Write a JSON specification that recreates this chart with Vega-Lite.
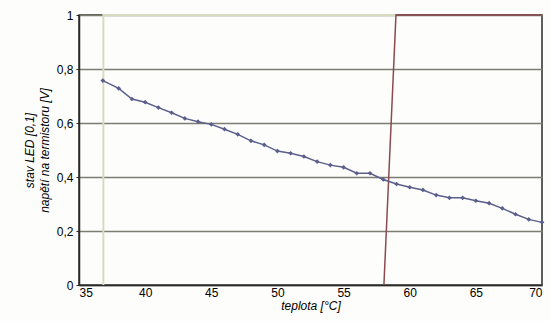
{
  "$schema": "https://vega.github.io/schema/vega-lite/v6.json",
  "width": 463,
  "height": 270,
  "autosize": {"type": "none"},
  "padding": {"left": 79, "top": 15, "right": 8, "bottom": 36},
  "background": "#fdfdfb",
  "config": {
    "view": {"stroke": "#2a2a2a", "strokeWidth": 1.5},
    "font": "Liberation Sans"
  },
  "data": {
    "values": [
      {"s": "ledA", "t": 36.84, "v": 0},
      {"s": "ledA", "t": 36.84, "v": 1},
      {"s": "ledA", "t": 58.96, "v": 1},
      {"s": "ledB", "t": 58.05, "v": 0},
      {"s": "ledB", "t": 58.96, "v": 1},
      {"s": "ledB", "t": 70, "v": 1},
      {"s": "u", "t": 36.8, "v": 0.757},
      {"s": "u", "t": 38, "v": 0.728},
      {"s": "u", "t": 39, "v": 0.689},
      {"s": "u", "t": 40, "v": 0.677},
      {"s": "u", "t": 41, "v": 0.657},
      {"s": "u", "t": 42, "v": 0.638},
      {"s": "u", "t": 43, "v": 0.617},
      {"s": "u", "t": 44, "v": 0.605},
      {"s": "u", "t": 45, "v": 0.595},
      {"s": "u", "t": 46, "v": 0.577},
      {"s": "u", "t": 47, "v": 0.558},
      {"s": "u", "t": 48, "v": 0.534},
      {"s": "u", "t": 49, "v": 0.519},
      {"s": "u", "t": 50, "v": 0.496},
      {"s": "u", "t": 51, "v": 0.488},
      {"s": "u", "t": 52, "v": 0.476},
      {"s": "u", "t": 53, "v": 0.457},
      {"s": "u", "t": 54, "v": 0.444},
      {"s": "u", "t": 55, "v": 0.436},
      {"s": "u", "t": 56, "v": 0.414},
      {"s": "u", "t": 57, "v": 0.414},
      {"s": "u", "t": 58, "v": 0.391},
      {"s": "u", "t": 59, "v": 0.374},
      {"s": "u", "t": 60, "v": 0.362},
      {"s": "u", "t": 61, "v": 0.352},
      {"s": "u", "t": 62, "v": 0.333},
      {"s": "u", "t": 63, "v": 0.323},
      {"s": "u", "t": 64, "v": 0.323},
      {"s": "u", "t": 65, "v": 0.312},
      {"s": "u", "t": 66, "v": 0.303},
      {"s": "u", "t": 67, "v": 0.284},
      {"s": "u", "t": 68, "v": 0.262},
      {"s": "u", "t": 69, "v": 0.243},
      {"s": "u", "t": 70, "v": 0.232}
    ]
  },
  "encoding": {
    "x": {
      "field": "t",
      "type": "quantitative",
      "scale": {"domain": [35, 70], "nice": false, "zero": false},
      "axis": {
        "title": "teplota [°C]",
        "titleFontStyle": "italic",
        "titleFontWeight": "normal",
        "titleFontSize": 12,
        "titleColor": "#000",
        "titlePadding": 2,
        "values": [35, 40, 45, 50, 55, 60, 65, 70],
        "labelFontSize": 12,
        "labelColor": "#000",
        "labelPadding": 2,
        "ticks": false,
        "grid": false,
        "domainColor": "#2a2a2a",
        "domainWidth": 1.5
      }
    },
    "y": {
      "field": "v",
      "type": "quantitative",
      "scale": {"domain": [0, 1], "nice": false},
      "axis": {
        "title": ["stav LED [0,1]", "napětí na termistoru [V]"],
        "titleFontStyle": "italic",
        "titleFontWeight": "normal",
        "titleFontSize": 12,
        "titleLineHeight": 15,
        "titleColor": "#000",
        "titlePadding": 5,
        "values": [0, 0.2, 0.4, 0.6, 0.8, 1],
        "labelExpr": "replace(format(datum.value, '.1~f'), '.', ',')",
        "labelFontSize": 12,
        "labelColor": "#000",
        "labelPadding": 3,
        "tickSize": 3,
        "tickColor": "#2a2a2a",
        "grid": true,
        "gridColor": "#7c7c72",
        "gridWidth": 1.5,
        "gridOpacity": 1,
        "domainColor": "#2a2a2a",
        "domainWidth": 1.5
      }
    }
  },
  "layer": [
    {
      "transform": [{"filter": "datum.s === 'ledA'"}],
      "mark": {"type": "line", "color": "#d9dbc0", "strokeWidth": 2},
      "encoding": {}
    },
    {
      "transform": [{"filter": "datum.s === 'ledB'"}],
      "mark": {"type": "line", "color": "#8c4a4e", "strokeWidth": 1.5},
      "encoding": {}
    },
    {
      "transform": [{"filter": "datum.s === 'u'"}],
      "mark": {
        "type": "line",
        "color": "#5a5f8c",
        "strokeWidth": 1.5,
        "point": {"filled": true, "shape": "diamond", "size": 22, "color": "#5a5f8c"}
      },
      "encoding": {}
    }
  ]
}
